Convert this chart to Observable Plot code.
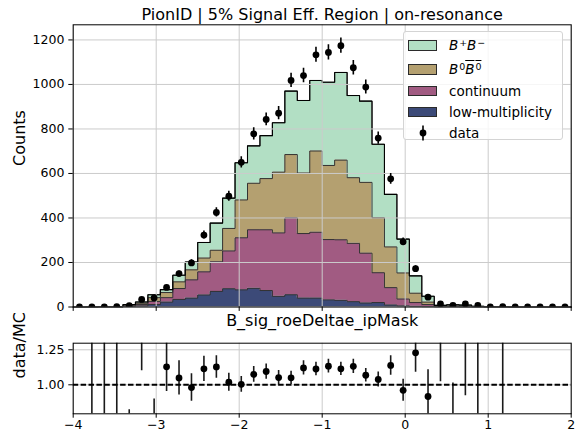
<!DOCTYPE html>
<html>
<head>
<meta charset="utf-8">
<script src="https://cdn.jsdelivr.net/npm/d3@7"></script>
<script src="https://cdn.jsdelivr.net/npm/@observablehq/plot@0.6"></script>
<style>
  html, body { margin: 0; padding: 0; background: #fff; }
  #chart { position: relative; width: 577px; height: 433px; font-family: "DejaVu Sans", sans-serif; }
  #chart svg { position: absolute; left: 0; }
  #legend {
    position: absolute; left: 402.7px; top: 31px; width: 160.6px; height: 109px;
    box-sizing: border-box; border: 1px solid #d4d4d4; border-radius: 3px;
    background: rgba(255,255,255,0.82); font-size: 13.5px; color: #000;
  }
  #legend .row { position: absolute; left: 0; width: 100%; height: 16px; line-height: 16px; }
  #legend .patch { position: absolute; left: 4.6px; top: 2.6px; width: 28.3px; height: 10.7px; box-sizing: border-box; border: 1px solid #2b2b2b; }
  #legend .lbl { position: absolute; left: 45.3px; top: 0; white-space: nowrap; }
  #legend i { font-style: oblique; }
  #legend sup { font-size: 0.7em; vertical-align: baseline; position: relative; top: -0.48em; margin-left: 0.1em; }
  #legend .bar { text-decoration: overline; }
</style>
</head>
<body>
<div id="chart"></div>
<script>
// Histogram binning of B_sig_roeDeltae_ipMask
const binStart = -4;
const binWidth = 0.15;

// Stacked MC components (counts per bin), bottom to top
const lowMultiplicity = [0, 0.1, 0.3, 0.3, 2, 5, 11, 22, 34, 40, 54, 70, 82, 77, 84, 74, 48, 55, 40, 40,
  32, 30, 24, 18, 20, 9, 5, 3, 1.5, 0.5, 0.8, 0.3, 0.1, 0, 0.1, 0, 0, 0, 0, 0];
const continuum = [0, 0.3, 0.6, 0.4, 3, 6, 14, 20, 49, 82, 104, 133, 170, 234, 263, 273, 285, 346, 290, 296,
  271, 272, 262, 224, 134, 78, 31, 17, 9.5, 1.5, 2.2, 1.2, 0.6, 0.2, 0.2, 0, 0, 0, 0, 0];
const neutralBB = [0, 0.2, 0.3, 0.3, 3, 6, 17, 23, 30, 45, 62, 52, 101, 170, 209, 230, 273, 284, 272, 365,
  333, 358, 295, 318, 247, 183, 117, 42, 11, 2, 2, 1.5, 0.8, 0.3, 0.4, 0, 0, 0, 0, 0];
const chargedBB = [0, 0.1, 0.3, 0.4, 3, 5.5, 13, 13, 30, 35, 70, 122, 136, 167, 168, 193, 222, 285, 326, 317,
  374, 394, 369, 365, 330, 236, 152, 78, 26, 3.5, 5.3, 5.6, 1.5, 0.5, 0.6, 0, 0, 0, 0, 0];

// Observed data counts per bin
const dataCounts = [0, 1, 1, 2, 6, 34, 41, 88, 150, 198, 323, 425, 498, 650, 778, 843, 871, 1018, 1040, 1133,
  1144, 1174, 1075, 988, 759, 576, 293, 172, 44, 14, 7, 14, 7, 0, 2, 0, 0, 0, 0, 0];

// Axis ticks
const xTicks = [-4, -3, -2, -1, 0, 1, 2];
const countTicks = [0, 200, 400, 600, 800, 1000, 1200];
const ratioTicks = [1.0, 1.25];

const titleText = "PionID | 5% Signal Eff. Region | on-resonance";
const xLabel = "B_sig_roeDeltae_ipMask";

const components = [
  { values: lowMultiplicity, color: "#3c4a78" },
  { values: continuum, color: "#a15b82" },
  { values: neutralBB, color: "#b4a070" },
  { values: chargedBB, color: "#b2dfc4" }
];

const nBins = dataCounts.length;
const edges = Array.from({ length: nBins + 1 }, (_, i) => binStart + binWidth * i);
const centers = edges.slice(0, -1).map(e => e + binWidth / 2);

// Cumulative stacking; each layer becomes a step outline over the bin edges
let below = new Array(nBins).fill(0);
const layers = components.map(c => {
  const lo = below.slice();
  const hi = lo.map((v, i) => v + c.values[i]);
  below = hi;
  const steps = edges.map((x, i) => {
    const j = Math.min(i, nBins - 1);
    return { x, lo: lo[j], hi: hi[j] };
  });
  return { ...c, steps };
});
const mcTotal = below;

const points = centers.map((x, i) => ({ x, n: dataCounts[i], mc: mcTotal[i] }));
const ratioPts = points
  .filter(p => p.n > 0 && p.mc > 0)
  .map(p => {
    const r = p.n / p.mc;
    const e = r * Math.sqrt(1 / p.n + 1 / p.mc);
    return { x: p.x, r, lo: r - e, hi: r + e };
  });

const minusFormat = d => (d < 0 ? "\u2212" + Math.abs(d) : String(d));
const gridStyle = { stroke: "#cbcbcb", strokeOpacity: 1, strokeWidth: 1 };
const svgStyle = {
  fontFamily: "DejaVu Sans, sans-serif", fontSize: "12.5px", color: "black",
  background: "transparent", overflow: "visible"
};

const main = Plot.plot({
  width: 577, height: 330,
  marginLeft: 72.7, marginRight: 6.3, marginTop: 24.3, marginBottom: 23.5,
  x: { domain: [-4, 2] },
  y: { domain: [0, 1268] },
  style: svgStyle,
  marks: [
    ...layers.map(l => Plot.areaY(l.steps, { x: "x", y1: "lo", y2: "hi", curve: "step-after", fill: l.color })),
    ...layers.map(l => Plot.lineY(l.steps, { x: "x", y: "hi", curve: "step-after", stroke: "#333", strokeWidth: 1 })),
    Plot.lineY(layers[3].steps, { x: "x", y: "hi", curve: "step-after", stroke: "black", strokeWidth: 1.1 }),
    Plot.gridX(xTicks, gridStyle),
    Plot.gridY(countTicks, gridStyle),
    Plot.ruleX(points, {
      x: "x", y1: d => d.n - Math.sqrt(d.n), y2: d => d.n + Math.sqrt(d.n),
      stroke: "black", strokeWidth: 1.6, clip: true
    }),
    Plot.dot(points, { x: "x", y: "n", r: 3.4, fill: "black", stroke: "none", clip: true }),
    Plot.frame({ stroke: "black", strokeWidth: 1 }),
    Plot.axisY(countTicks, { tickSize: 4.4, tickPadding: 4.4, label: null, tickFormat: d => String(d) }),
    Plot.axisX(xTicks, { tickSize: 4.4, label: null, tickFormat: () => "" }),
    Plot.text([titleText], { text: d => d, frameAnchor: "top", lineAnchor: "middle", dy: -10.4, fontSize: 16 }),
    Plot.text([xLabel], { text: d => d, frameAnchor: "bottom", lineAnchor: "top", dy: 7.8, fontSize: 16 }),
    Plot.text(["Counts"], { text: d => d, frameAnchor: "left", lineAnchor: "middle", rotate: -90, dx: -53.3, fontSize: 16 })
  ]
});
main.style.top = "0px";

const ratio = Plot.plot({
  width: 577, height: 103,
  marginLeft: 72.7, marginRight: 6.3, marginTop: 12.7, marginBottom: 19.7,
  x: { domain: [-4, 2] },
  y: { domain: [0.793, 1.297] },
  style: svgStyle,
  marks: [
    Plot.gridX(xTicks, gridStyle),
    Plot.gridY(ratioTicks, gridStyle),
    Plot.ruleX(ratioPts, { x: "x", y1: "lo", y2: "hi", stroke: "#1a1a1a", strokeWidth: 1.6, clip: true }),
    Plot.ruleY([1], { stroke: "black", strokeWidth: 1.9, strokeDasharray: "5.5,2.4" }),
    Plot.dot(ratioPts, { x: "x", y: "r", r: 3.4, fill: "black", stroke: "none", clip: true }),
    Plot.frame({ stroke: "black", strokeWidth: 1 }),
    Plot.axisY(ratioTicks, { tickSize: 4.4, tickPadding: 4.4, label: null, tickFormat: d3.format(".2f") }),
    Plot.axisX(xTicks, { tickSize: 4.4, tickPadding: 2.3, label: null, tickFormat: minusFormat }),
    Plot.text(["data/MC"], { text: d => d, frameAnchor: "left", lineAnchor: "middle", rotate: -90, dx: -53.3, fontSize: 16 })
  ]
});
ratio.style.top = "330px";

const chart = document.getElementById("chart");
chart.appendChild(main);
chart.appendChild(ratio);

// Legend
const legend = document.createElement("div");
legend.id = "legend";
const rows = [
  { top: 5.3, color: components[3].color, html: "<i>B</i><sup>+</sup><i>B</i><sup>\u2212</sup>" },
  { top: 29.3, color: components[2].color, html: "<i>B</i><sup>0</sup><span class=\"bar\"><i>B</i><sup>0</sup></span>" },
  { top: 51, color: components[1].color, html: "continuum" },
  { top: 72, color: components[0].color, html: "low-multiplicity" }
];
rows.forEach(r => {
  const row = document.createElement("div");
  row.className = "row";
  row.style.top = r.top + "px";
  row.innerHTML = `<span class="patch" style="background:${r.color}"></span><span class="lbl">${r.html}</span>`;
  legend.appendChild(row);
});
const dataRow = document.createElement("div");
dataRow.className = "row";
dataRow.style.top = "92.7px";
dataRow.innerHTML =
  `<svg width="40" height="16" style="position:absolute;left:0;top:0;overflow:visible">` +
  `<line x1="19" x2="19" y1="0.5" y2="15.5" stroke="black" stroke-width="1.6"></line>` +
  `<circle cx="19" cy="8" r="3.4" fill="black"></circle></svg>` +
  `<span class="lbl">data</span>`;
legend.appendChild(dataRow);
chart.appendChild(legend);
</script>
</body>
</html>
